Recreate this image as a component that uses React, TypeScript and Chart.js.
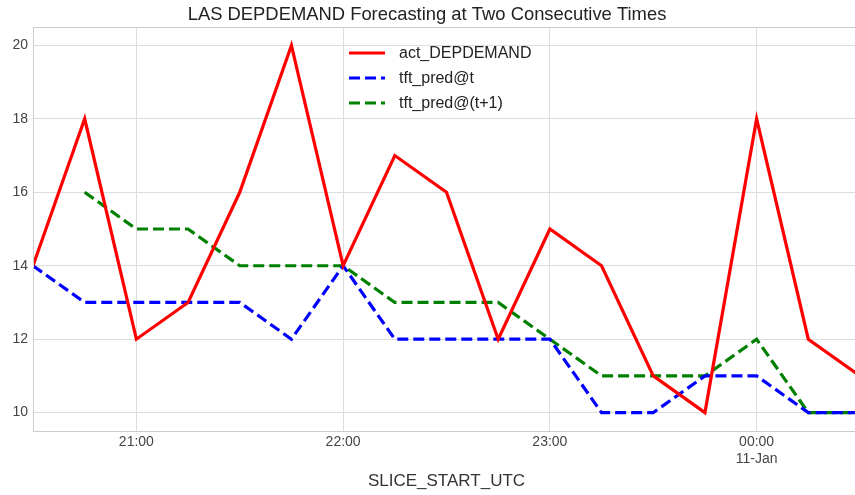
import React, { useEffect, useRef } from "react";
import { Chart, registerables } from "chart.js";

Chart.register(...registerables);

const times = ["20:30","20:45","21:00","21:15","21:30","21:45","22:00","22:15","22:30","22:45","23:00","23:15","23:30","23:45","00:00","00:15","00:30"];
const actDemand = [14,18,12,13,16,20,14,17,16,12,15,14,11,10,18,12,11];
const predT = [14,13,13,13,13,12,14,12,12,12,12,10,10,11,11,10,10];
const predT1 = [null,16,15,15,14,14,14,13,13,13,12,11,11,11,12,10,10];
const xTickMinutes = [60,120,180,240];
const xTickLabels: (string | string[])[] = ["21:00","22:00","23:00",["00:00","11-Jan"]];
const yTicks = [10,12,14,16,18,20];

const toMin = (t: string) => {
  const [h, m] = t.split(":").map(Number);
  return (h < 12 ? h + 24 : h) * 60 + m - 20 * 60;
};

const seriesNames = ["act_DEPDEMAND","tft_pred@t","tft_pred@(t+1)"];
const seriesColors = ["#ff0000","#0000ff","#008000"];
const seriesDash = [[], [11,5], [11,5]];

const FONT = "'Liberation Sans', Arial, sans-serif";

export default function App() {
  const ref = useRef<HTMLCanvasElement>(null);
  useEffect(() => {
    document.body.style.margin = "0";
    const ctx = ref.current!;
    const mk = (vals: (number | null)[], i: number) => ({
      label: seriesNames[i],
      data: times.map((t, k) => ({ x: toMin(t), y: vals[k] })),
      borderColor: seriesColors[i],
      backgroundColor: seriesColors[i],
      borderWidth: 3.2,
      borderDash: seriesDash[i],
      pointRadius: 0,
      tension: 0,
      spanGaps: false,
    });
    const decor = {
      id: "decor",
      beforeDraw(chart: any) {
        const { ctx } = chart;
        ctx.save();
        ctx.fillStyle = "#ffffff";
        ctx.fillRect(0, 0, chart.width, chart.height);
        ctx.restore();
      },
      afterDraw(chart: any) {
        const { ctx, chartArea: a } = chart;
        ctx.save();
        ctx.strokeStyle = "#cccccc";
        ctx.lineWidth = 1;
        ctx.strokeRect(a.left + 0.5, a.top + 0.5, a.right - a.left, a.bottom - a.top);
        // title
        ctx.fillStyle = "#222222";
        ctx.font = `18.4px ${FONT}`;
        ctx.textAlign = "center";
        ctx.textBaseline = "middle";
        ctx.fillText("LAS DEPDEMAND Forecasting at Two Consecutive Times", 427, 14.5);
        // legend
        ctx.font = `16px ${FONT}`;
        ctx.textAlign = "left";
        seriesNames.forEach((n, i) => {
          const y = 53 + i * 25;
          ctx.beginPath();
          ctx.strokeStyle = seriesColors[i];
          ctx.lineWidth = 3.2;
          ctx.setLineDash(seriesDash[i]);
          ctx.moveTo(349, y);
          ctx.lineTo(385, y);
          ctx.stroke();
          ctx.setLineDash([]);
          ctx.fillStyle = "#222222";
          ctx.fillText(n, 399, y + 1);
        });
        ctx.restore();
      },
    };
    const chart = new Chart(ctx, {
      type: "line",
      data: { datasets: [mk(actDemand, 0), mk(predT, 1), mk(predT1, 2)] },
      options: {
        animation: false,
        responsive: false,
        layout: { padding: { top: 27, right: 2, left: 0, bottom: 0 } },
        plugins: { legend: { display: false }, title: { display: false }, tooltip: { enabled: false } },
        scales: {
          x: {
            type: "linear",
            min: 30,
            max: 270,
            afterBuildTicks: (s: any) => { s.ticks = xTickMinutes.map((v) => ({ value: v })); },
            afterFit: (s: any) => { s.height = 64; },
            ticks: {
              callback: (v: any) => xTickLabels[xTickMinutes.indexOf(v)] ?? "",
              color: "#444444",
              font: { size: 14, family: FONT },
              padding: 3,
              maxRotation: 0,
              autoSkip: false,
            },
            grid: { color: "#dddddd", drawTicks: false },
            border: { display: false },
            title: { display: true, text: "SLICE_START_UTC", color: "#333333", font: { size: 17, family: FONT }, padding: { top: 0, bottom: 3 } },
          },
          y: {
            min: 9.5,
            max: 20.5,
            afterBuildTicks: (s: any) => { s.ticks = yTicks.map((v) => ({ value: v })); },
            afterFit: (s: any) => { s.width = 33; },
            ticks: { color: "#444444", font: { size: 14, family: FONT }, padding: 5 },
            grid: { color: "#dddddd", drawTicks: false },
            border: { display: false },
          },
        },
      },
      plugins: [decor],
    });
    return () => chart.destroy();
  }, []);
  return (
    <div style={{ width: 855, height: 495, overflow: "hidden" }}>
      <canvas ref={ref} width={862} height={495} />
    </div>
  );
}
